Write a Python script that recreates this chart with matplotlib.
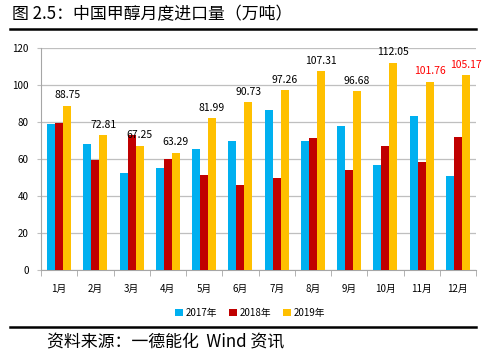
import matplotlib

matplotlib.use("Agg")
import matplotlib.pyplot as plt
import numpy as np
from matplotlib.lines import Line2D
from matplotlib.ticker import FixedLocator

plt.rcParams["font.family"] = ["Noto Sans CJK SC", "DejaVu Sans"]

MONTHS = ["1月", "2月", "3月", "4月", "5月", "6月", "7月", "8月", "9月", "10月", "11月", "12月"]
IMPORT_2017 = [78.8, 67.9, 52.7, 55.4, 65.2, 69.5, 86.3, 69.5, 77.7, 56.5, 83.1, 50.6]
IMPORT_2018 = [79.7, 59.6, 72.8, 59.8, 51.6, 45.7, 50.0, 71.2, 53.8, 66.8, 58.2, 71.7]
IMPORT_2019 = [88.75, 72.81, 67.25, 63.29, 81.99, 90.73, 97.26, 107.31, 96.68, 112.05, 101.76, 105.17]
LABEL_COLORS = ["black"] * 10 + ["red", "red"]

SERIES = [("2017年", IMPORT_2017, "#00B0F0"),
          ("2018年", IMPORT_2018, "#C00000"),
          ("2019年", IMPORT_2019, "#FFC000")]

W, H = 484, 356
fig = plt.figure(figsize=(W / 100, H / 100), dpi=100)

# title and source with black rules
fig.text(12 / W, 1 - 14 / H, "图 2.5：中国甲醇月度进口量（万吨）", fontsize=12.2, va="center", ha="left")
fig.add_artist(Line2D([10 / W, 476 / W], [1 - 28.5 / H] * 2, color="black", lw=1.8))
fig.add_artist(Line2D([10 / W, 476 / W], [1 - 327 / H] * 2, color="black", lw=1.8))
fig.text(47 / W, 1 - 342 / H, "资料来源：一德能化  Wind 资讯", fontsize=12.2, va="center", ha="left")

ax = fig.add_axes([41 / W, 1 - 270 / H, 435 / W, 222 / H])
x = np.arange(len(MONTHS))
width = 0.22
for i, (name, values, color) in enumerate(SERIES):
    ax.bar(x + (i - 1) * width, values, width, color=color, label=name, zorder=3)

for xi, val, col in zip(x, IMPORT_2019, LABEL_COLORS):
    ax.annotate(f"{val:.2f}", (xi + width, val), xytext=(0, 4), textcoords="offset points",
                ha="center", va="bottom", fontsize=7.5, color=col)

ax.set_xlim(-0.5, len(MONTHS) - 0.5)
ax.set_ylim(0, 120)
ax.set_yticks(range(0, 121, 20))
ax.yaxis.grid(True, color="#BFBFBF", lw=0.9, zorder=0)
ax.tick_params(axis="y", length=3, color="#BFBFBF", labelsize=7, pad=6)
ax.set_xticks(x)
ax.set_xticklabels(MONTHS, fontsize=7)
ax.tick_params(axis="x", which="major", length=0, pad=10)
ax.xaxis.set_minor_locator(FixedLocator(np.arange(-0.5, len(MONTHS))))
ax.tick_params(axis="x", which="minor", length=4, color="#A6A6A6")
for side in ("top", "right"):
    ax.spines[side].set_visible(False)
for side in ("left", "bottom"):
    ax.spines[side].set_color("#A6A6A6")

handles, labels = ax.get_legend_handles_labels()
fig.legend(handles, labels, loc="center", bbox_to_anchor=(250 / W, 1 - 313 / H), ncol=3,
           frameon=False, fontsize=7, handlelength=0.8, handleheight=0.8,
           handletextpad=0.3, columnspacing=1.2)

fig.savefig("out.png", dpi=100)
